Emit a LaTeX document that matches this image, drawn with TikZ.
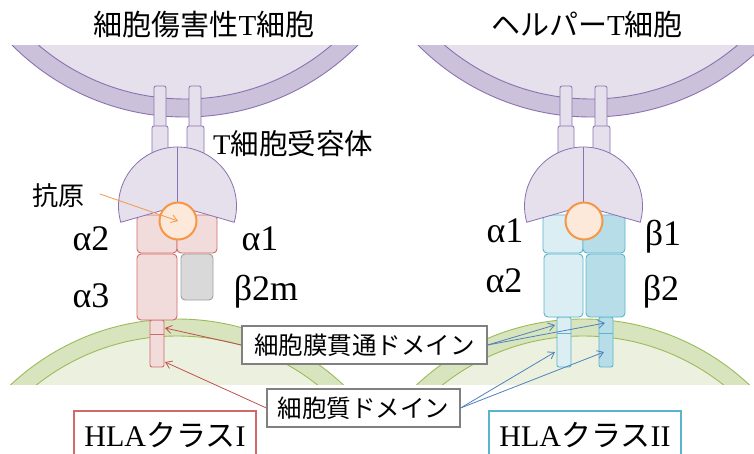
\documentclass[tikz,border=0pt]{standalone}
\usepackage{fontspec}
\setmainfont{Liberation Serif}
\newfontfamily\jp{Noto Sans CJK JP}
\usetikzlibrary{arrows.meta}

\definecolor{purpring}{HTML}{CCC1DA}
\definecolor{purpin}{HTML}{E5E0EC}
\definecolor{purpline}{HTML}{8A72B0}
\definecolor{greenring}{HTML}{D7E4BD}
\definecolor{greenin}{HTML}{EBF1DE}
\definecolor{greenline}{HTML}{9BBB59}
\definecolor{pinkfill}{HTML}{F2DCDB}
\definecolor{pinkline}{HTML}{D06A68}
\definecolor{grayfill}{HTML}{D9D9D9}
\definecolor{grayline}{HTML}{A0A0A0}
\definecolor{bluea}{HTML}{DAEEF3}
\definecolor{blueb}{HTML}{B7DEE8}
\definecolor{blueline}{HTML}{5BB4CC}
\definecolor{agfill}{HTML}{FDE9D9}
\definecolor{agline}{HTML}{F79646}
\definecolor{arrred}{HTML}{C0504D}
\definecolor{arrblue}{HTML}{4F81BD}
\definecolor{boxgray}{HTML}{808080}

\tikzset{
  ring/.style={fill=purpring, draw=purpline, line width=0.9pt},
  cellin/.style={fill=purpin, draw=purpline, line width=0.9pt},
  gring/.style={fill=greenring, draw=greenline, line width=0.9pt},
  gin/.style={fill=greenin, draw=greenline, line width=0.9pt},
  tcrpart/.style={fill=purpin, draw=purpline, line width=0.8pt},
  pinkdom/.style={fill=pinkfill, draw=pinkline, line width=0.9pt, rounded corners=4pt},
  graydom/.style={fill=grayfill, draw=grayline, line width=0.9pt, rounded corners=4pt},
  adom/.style={fill=bluea, draw=blueline, line width=0.9pt, rounded corners=4pt},
  bdom/.style={fill=blueb, draw=blueline, line width=0.9pt, rounded corners=4pt},
  antigen/.style={circle, fill=agfill, draw=agline, line width=2pt, minimum size=37pt, inner sep=0pt},
  greek/.style={font=\fontsize{36}{40}\selectfont, anchor=base, inner sep=0pt},
  title/.style={font=\fontsize{29}{32}\selectfont, anchor=base, inner sep=0pt},
  dombox/.style={draw=boxgray, fill=white, line width=1.2pt, inner sep=0pt,
    font=\jp\fontsize{24.5}{28}\selectfont},
  hlabox/.style={fill=white, line width=1.2pt, inner sep=0pt,
    minimum height=48pt, font=\fontsize{30}{34}\selectfont},
  tip/.style={-{Straight Barb[length=6pt,width=8pt]}, line width=0.8pt},
}

% T cell receptor: two stalks and the dome, centred on x = #1
\newcommand\tcrdraw[1]{%
  \draw[tcrpart, rounded corners=2pt] ({#1-23.5},128) rectangle ({#1-11.5},86);
  \draw[tcrpart, rounded corners=2pt] ({#1+11.5},128) rectangle ({#1+23.5},86);
  \draw[tcrpart, rounded corners=2pt] ({#1-25.5},170) rectangle ({#1-9.5},126);
  \draw[tcrpart, rounded corners=2pt] ({#1+9.5},170) rectangle ({#1+26.5},126);
  \filldraw[tcrpart] plot[domain=164:376, samples=90] ({#1+59*cos(\x)},{206+59*sin(\x)})
    -- (#1,206) -- cycle;
  \draw[tcrpart] (#1,147) -- (#1,206);
}

\begin{document}
\begin{tikzpicture}[x=1pt, y=-1pt]
\path[use as bounding box] (0,0) rectangle (754,454);
\clip (0,0) rectangle (754,454);
\fill[white] (0,0) rectangle (754,454);

% T cells, top
\begin{scope}
  \clip (0,46) rectangle (754,200);
  \filldraw[ring] (185,-127) circle[radius=244];
  \filldraw[cellin] (185,-127) circle[radius=226];
  \filldraw[ring] (591,-127) circle[radius=244];
  \filldraw[cellin] (591,-127) circle[radius=226];
\end{scope}

% target cells, bottom
\begin{scope}
  \clip (0,250) rectangle (754,384);
  \filldraw[gring] (177,562) circle[radius=243];
  \filldraw[gin] (177,562) circle[radius=226];
  \filldraw[gring] (583,562) circle[radius=243];
  \filldraw[gin] (583,562) circle[radius=226];
\end{scope}

% titles
\node[title] (tc1) at (204,36) {{\jp 細胞傷害性}T{\jp 細胞}};
\node[title] (tc2) at (587,36) {{\jp ヘルパー}T{\jp 細胞}};
\node[title, anchor=base west, font=\fontsize{28.5}{32}\selectfont] (tcr) at (213,155) {T{\jp 細胞受容体}};

% HLA class I
\draw[pinkdom, rounded corners=2pt] (150,320) rectangle (164,367);
\draw[draw=pinkline, line width=0.9pt] (150,334) -- (164,334);
\draw[pinkdom] (137,254) rectangle (177,320);
\draw[graydom] (181,254) rectangle (213,300);
\draw[pinkdom] (137,215) rectangle (177,253);
\draw[pinkdom] (177,215) rectangle (217,253);
\tcrdraw{177.5}
\node[antigen] (ag1) at (178,221) {};

% HLA class II
\draw[adom, rounded corners=2pt] (557,317) rectangle (571,367);
\draw[draw=blueline, line width=0.9pt] (557,333) -- (571,333);
\draw[bdom, rounded corners=2pt] (599,317) rectangle (613,367);
\draw[draw=blueline, line width=0.9pt] (599,333) -- (613,333);
\draw[adom] (544,254) rectangle (583,317);
\draw[bdom] (586,254) rectangle (625,317);
\draw[adom] (543,215) rectangle (583,253);
\draw[bdom] (583,215) rectangle (625,253);
\tcrdraw{583.5}
\node[antigen] (ag2) at (584,221) {};

% domain labels
\node[greek] (la2) at (91,250) {α2};
\node[greek] (la1) at (260,250) {α1};
\node[greek] (la3) at (91,307) {α3};
\node[greek] (lb2m) at (266,300) {β2m};
\node[greek] (ra1) at (505,243) {α1};
\node[greek] (ra2) at (504,292) {α2};
\node[greek] (rb1) at (663,245) {β1};
\node[greek] (rb2) at (661,300) {β2};

% antigen label
\node[anchor=base west, inner sep=0pt, font=\jp\fontsize{26}{30}\selectfont] (agl) at (32,206) {抗原};
\coordinate (agtail) at (100,194);
\draw[tip, draw=agline] (agtail) -- (ag1.center);

% domain boxes
\node[dombox, minimum width=245pt, minimum height=38pt] (tmbox) at (364.5,345) {細胞膜貫通ドメイン};
\node[dombox, minimum width=193pt, minimum height=38pt] (cybox) at (363.5,408) {細胞質ドメイン};

% class boxes
\node[hlabox, draw=pinkline, minimum width=182pt] (hla1) at (165,435) {HLA{\jp クラス}I};
\node[hlabox, draw=blueline, minimum width=192pt] (hla2) at (585,435) {HLA{\jp クラス}II};

% arrow targets on the membrane segments
\coordinate (tm1a) at (165,328);
\coordinate (tm1b) at (165,362);
\coordinate (tmAa) at (555,325);
\coordinate (tmBa) at (605,323);
\coordinate (tmAb) at (555,352);
\coordinate (tmBb) at (604,352);

\draw[tip, draw=arrred] (tmbox.west) -- (tm1a);
\draw[tip, draw=arrred] (cybox.west) -- (tm1b);
\draw[tip, draw=arrblue] (tmbox.east) -- (tmAa);
\draw[tip, draw=arrblue] (tmbox.east) -- (tmBa);
\draw[tip, draw=arrblue] (cybox.east) -- (tmAb);
\draw[tip, draw=arrblue] (cybox.east) -- (tmBb);
\end{tikzpicture}
\end{document}
